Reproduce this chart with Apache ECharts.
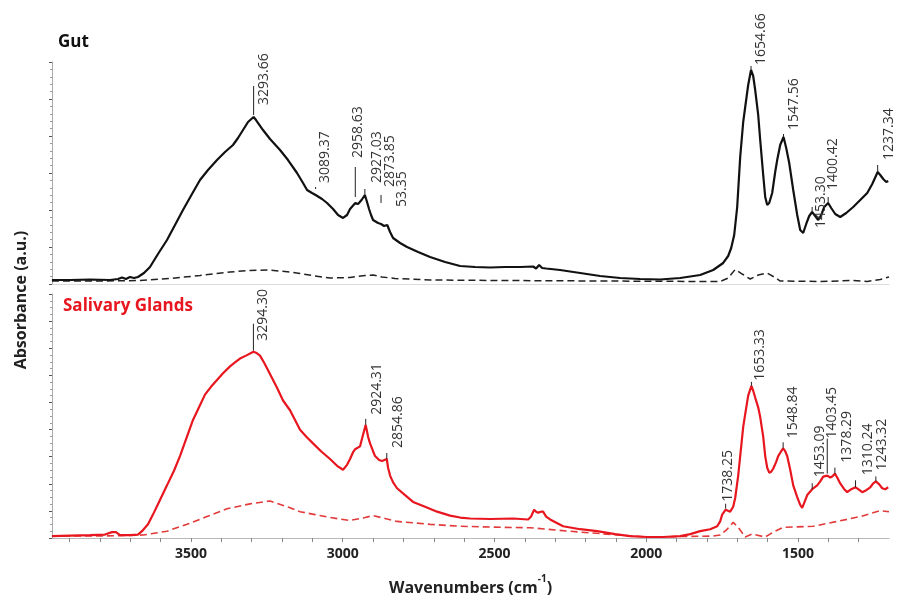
<!DOCTYPE html>
<html>
<head>
<meta charset="utf-8">
<script src="https://cdn.jsdelivr.net/npm/echarts@6/dist/echarts.min.js"></script>
<style>
  html, body { margin: 0; padding: 0; background: #fff; }
  #chart { width: 899px; height: 597px; }
</style>
</head>
<body>
<div id="chart"></div>
<script>
// FTIR spectra: [wavenumber (cm-1), absorbance (a.u.)]
const gutSample = [
  [3958.2,0.108],[3898.8,0.108],[3832.9,0.122],[3767,0.108],[3740.6,0.135],[3727.4,0.176],[3714.3,0.135],
  [3701.1,0.189],[3687.9,0.162],[3674.7,0.189],[3654.9,0.297],[3635.1,0.459],[3608.8,0.811],[3579.1,1.189],
  [3552.7,1.595],[3526.4,2.0],[3496.7,2.432],[3470.3,2.811],[3444,3.081],[3414.3,3.351],[3387.9,3.568],
  [3361.6,3.757],[3345.1,3.946],[3328.6,4.162],[3312.1,4.378],[3293.66,4.514],[3285.7,4.432],[3262.7,4.162],
  [3239.6,3.919],[3206.6,3.622],[3180.3,3.351],[3150.6,3.0],[3130.8,2.730],[3117.6,2.541],[3101.2,2.459],
  [3089.37,2.405],[3068.2,2.297],[3051.7,2.189],[3031.9,2.027],[3015.4,1.865],[2999,1.784],[2985.8,1.865],
  [2975.9,2.027],[2958.63,2.189],[2949.5,2.162],[2938,2.27],[2927.03,2.405],[2919.9,2.216],[2913.3,2.027],
  [2906.7,1.865],[2900.1,1.730],[2883.6,1.649],[2873.85,1.622],[2863.8,1.568],[2853.35,1.595],[2844,1.405],
  [2834.1,1.243],[2811.1,1.108],[2788,1.0],[2751.7,0.865],[2712.2,0.730],[2662.7,0.595],[2613.3,0.486],
  [2563.9,0.459],[2514.4,0.446],[2465,0.459],[2415.5,0.459],[2372.7,0.473],[2362.8,0.419],[2352.9,0.514],
  [2343,0.432],[2329.8,0.419],[2283.7,0.378],[2217.7,0.297],[2151.8,0.216],[2085.9,0.162],[2020,0.135],
  [1954.1,0.122],[1888.1,0.162],[1822.2,0.243],[1779.3,0.378],[1746.4,0.568],[1729.9,0.757],[1720,0.973],
  [1710.1,1.324],[1700.2,2.081],[1690.3,3.432],[1680.4,4.378],[1673.8,4.784],[1664,5.378],[1654.66,5.784],
  [1647.5,5.622],[1640.9,5.243],[1631,4.568],[1624.4,3.892],[1614.5,2.946],[1607.9,2.351],[1601.3,2.135],
  [1594.7,2.189],[1584.9,2.459],[1575,3.027],[1568.4,3.351],[1558.5,3.757],[1547.56,3.973],[1538.7,3.676],
  [1528.8,3.270],[1515.6,2.541],[1502.4,1.865],[1492.6,1.459],[1482.7,1.378],[1472.8,1.622],[1462.9,1.838],
  [1453.30,1.946],[1443.1,1.838],[1433.2,1.730],[1423.3,1.865],[1413.4,2.081],[1400.42,2.189],[1390.4,2.054],
  [1377.2,1.892],[1360.7,1.811],[1340.9,1.919],[1317.9,2.081],[1294.8,2.270],[1271.7,2.459],[1255.2,2.703],
  [1237.34,3.027],[1228.8,2.946],[1219,2.838],[1209,2.757],[1202.5,2.784]
];
const gutBackground = [
  [3958.2,0.081],[3800,0.081],[3668.1,0.095],[3569.2,0.149],[3470.3,0.230],[3371.4,0.324],[3305.5,0.365],
  [3246.2,0.378],[3190.1,0.338],[3140.7,0.284],[3091.3,0.216],[3041.8,0.162],[2975.9,0.176],[2926.4,0.230],
  [2900.1,0.243],[2870.4,0.189],[2827.6,0.149],[2712.2,0.108],[2481.4,0.095],[2151.8,0.081],[1822.2,0.068],
  [1756.3,0.068],[1729.9,0.162],[1706.8,0.392],[1683.7,0.270],[1657.4,0.135],[1631,0.243],[1601.3,0.297],
  [1578.3,0.189],[1558.5,0.081],[1426.6,0.068],[1317.9,0.095],[1271.7,0.068],[1228.8,0.122],[1200,0.189]
];
const glandSample = [
  [3958.2,0.072],[3898.8,0.090],[3832.9,0.108],[3783.5,0.126],[3760.4,0.216],[3747.2,0.216],[3734,0.108],
  [3701.1,0.108],[3674.7,0.126],[3661.5,0.252],[3641.7,0.504],[3625.3,0.863],[3602.2,1.403],[3579.1,1.942],
  [3556,2.482],[3536.3,3.022],[3513.2,3.741],[3493.4,4.353],[3473.6,4.820],[3453.9,5.288],[3434.1,5.576],
  [3414.3,5.827],[3394.5,6.079],[3371.4,6.331],[3355,6.475],[3338.5,6.619],[3318.7,6.727],[3294.30,6.871],
  [3285.7,6.835],[3272.6,6.727],[3259.4,6.475],[3249.5,6.259],[3233,5.899],[3216.5,5.540],[3196.7,5.072],
  [3173.7,4.712],[3140.7,3.993],[3117.6,3.705],[3097.9,3.489],[3071.5,3.201],[3041.8,2.914],[3018.7,2.662],
  [2999,2.518],[2985.8,2.698],[2975.9,2.914],[2966,3.165],[2959.4,3.273],[2942.9,3.381],[2936.3,3.669],
  [2924.31,4.173],[2916.6,3.741],[2910,3.489],[2900.1,3.201],[2893.5,3.022],[2880.3,2.878],[2870.4,2.842],
  [2854.86,2.914],[2850.6,2.590],[2844,2.302],[2834.1,2.050],[2821,1.835],[2794.6,1.583],[2768.2,1.331],
  [2728.7,1.151],[2689.1,0.971],[2646.3,0.827],[2613.3,0.755],[2580.3,0.719],[2514.4,0.701],[2438.6,0.719],
  [2389.1,0.683],[2379.3,0.791],[2369.4,1.043],[2362.8,0.971],[2356.2,0.935],[2346.3,0.971],[2339.7,0.971],
  [2329.8,0.791],[2316.6,0.683],[2273.8,0.432],[2217.7,0.324],[2161.7,0.252],[2102.4,0.144],[2052.9,0.072],
  [1996.9,0.036],[1944.1,0.036],[1888.1,0.072],[1855.1,0.144],[1822.2,0.252],[1789.2,0.324],[1766.1,0.432],
  [1756.3,0.612],[1749.7,0.863],[1738.25,1.043],[1733.2,1.007],[1723.3,0.971],[1713.4,1.151],[1706.8,1.475],
  [1696.9,2.302],[1690.3,3.022],[1680.4,4.101],[1673.8,4.568],[1664,5.252],[1653.33,5.612],[1647.5,5.432],
  [1640.9,5.180],[1631,4.820],[1624.4,4.460],[1614.5,3.741],[1607.9,3.022],[1601.3,2.590],[1594.7,2.410],
  [1588.1,2.446],[1581.6,2.554],[1571.7,2.806],[1565.1,3.022],[1555.2,3.201],[1548.84,3.309],[1542,3.201],
  [1535.4,3.022],[1525.5,2.518],[1515.6,1.942],[1502.4,1.511],[1492.6,1.223],[1486,1.115],[1479.4,1.295],
  [1469.5,1.583],[1453.09,1.799],[1449.7,1.871],[1436.5,1.942],[1426.6,2.086],[1416.7,2.266],[1403.45,2.302],
  [1393.7,2.230],[1387.1,2.266],[1378.29,2.374],[1370.6,2.230],[1360.7,2.014],[1347.5,1.799],[1337.6,1.691],
  [1324.4,1.799],[1310.24,1.871],[1301.4,1.799],[1288.2,1.691],[1275,1.763],[1261.8,1.871],[1251.9,2.014],
  [1243.32,2.086],[1232.1,1.978],[1222.3,1.835],[1212.4,1.799],[1202.5,1.871]
];
const glandBackground = [
  [3958.2,0.072],[3800,0.072],[3658.2,0.108],[3579.1,0.252],[3513.2,0.504],[3447.3,0.791],[3381.3,1.079],
  [3305.5,1.259],[3239.6,1.367],[3173.7,1.115],[3140.7,0.971],[3091.3,0.863],[3041.8,0.755],[2975.9,0.647],
  [2926.4,0.755],[2900.1,0.827],[2860.5,0.719],[2821,0.612],[2712.2,0.504],[2613.3,0.432],[2481.4,0.396],
  [2382.6,0.378],[2217.7,0.216],[1996.9,0.036],[1779.3,0.072],[1756.3,0.108],[1736.5,0.288],[1713.4,0.576],
  [1696.9,0.396],[1673.8,0.036],[1650.8,0.144],[1607.9,0.036],[1581.6,0.216],[1548.6,0.396],[1449.7,0.432],
  [1370.6,0.612],[1294.8,0.791],[1228.8,1.007],[1200,0.971]
];

// Assigned band positions
const gutPeaks = [3293.66, 3089.37, 2958.63, 2927.03, 2873.85, 2853.35, 1654.66, 1547.56, 1453.30, 1400.42, 1237.34];
const gutPeakText = ['3293.66', '3089.37', '2958.63', '2927.03', '2873.85', '53.35', '1654.66', '1547.56', '1453.30', '1400.42', '1237.34'];
const glandPeaks = [3294.30, 2924.31, 2854.86, 1738.25, 1653.33, 1548.84, 1453.09, 1403.45, 1378.29, 1310.24, 1243.32];
const glandPeakText = ['3294.30', '2924.31', '2854.86', '1738.25', '1653.33', '1548.84', '1453.09', '1403.45', '1378.29', '1310.24', '1243.32'];

// Axis ticks
const majorTicks = [3500, 3000, 2500, 2000, 1500];
const minorTicks = [3900, 3800, 3700, 3600, 3500, 3400, 3300, 3200, 3100, 3000, 2900, 2800, 2700, 2600, 2500,
  2400, 2300, 2200, 2100, 2000, 1900, 1800, 1700, 1600, 1500, 1400, 1300];

// Label placement: [dx, text gap above peak, leader start, leader end]
const gutLabelLayout = [
  [10, 12, 2, 31], [9, 12, 6, 8], [3, 45, 6, 36], [12, 12, 0, 6], [9, 37, 21, 29], [15, 18, 0, 0],
  [10, 5, 0, 4], [10, 7, 0, 3], [9, -16, 0, 5], [5, 13, 0, 6], [11, 12, 0, 7]
];
const glandLabelLayout = [
  [10, 11, 1, 28], [11, 10, 0, 6], [11, 11, 0, 6], [2, 8, 1, 6], [9, 5, 0, 4], [10, 10, 0, 6],
  [8, 12, 0, 6], [5, 37, 2, 37], [12, 11, 0, 6], [12, 12, 0, 7], [6, 11, 0, 5]
];

const FONT = '"Open Sans", "Liberation Sans", Arial, sans-serif';

function peakPoints(spectrum, peaks) {
  return peaks.map(w => {
    const hit = spectrum.find(p => p[0] === w);
    return [w, hit ? hit[1] : 0];
  });
}

function labelRenderer(texts, layout) {
  return function (params, api) {
    const p = api.coord([api.value(0), api.value(1)]);
    const L = layout[params.dataIndex];
    const children = [];
    if (L[3] > L[2]) {
      children.push({
        type: 'line',
        shape: { x1: p[0], y1: p[1] - L[2], x2: p[0], y2: p[1] - L[3] },
        style: { stroke: '#222', lineWidth: 1 }
      });
    }
    children.push({
      type: 'text',
      x: p[0] + L[0],
      y: p[1] - L[1],
      rotation: Math.PI / 2,
      style: {
        text: texts[params.dataIndex],
        fill: '#333',
        font: '14px ' + FONT,
        align: 'left',
        verticalAlign: 'middle'
      }
    });
    return { type: 'group', children };
  };
}

const xRange = { min: 1200, max: 3958 };
const BLACK = '#111';
const RED = '#e8161e';

const chart = echarts.init(document.getElementById('chart'), null, { renderer: 'canvas' });

chart.setOption({
  animation: false,
  backgroundColor: '#fff',
  grid: [
    { left: 52, right: 10, top: 62, height: 222 },
    { left: 52, right: 10, top: 294, height: 250 }
  ],
  xAxis: [
    {
      gridIndex: 0, type: 'value', inverse: true, min: xRange.min, max: xRange.max,
      axisLine: { show: true, lineStyle: { color: '#dcdcdc', width: 1 } },
      axisTick: { show: false }, axisLabel: { show: false }, splitLine: { show: false }
    },
    {
      gridIndex: 1, type: 'value', inverse: true, min: xRange.min, max: xRange.max,
      axisLine: { show: true, lineStyle: { color: '#b8b8b8', width: 1 } },
      axisTick: { show: true, length: 4, customValues: minorTicks, lineStyle: { color: '#888' } },
      axisLabel: {
        show: true, customValues: majorTicks, margin: 9,
        formatter: v => String(v),
        color: '#222', fontFamily: FONT, fontWeight: 'bold', fontSize: 14
      },
      splitLine: { show: false },
      name: '{a|Wavenumbers (cm}{s|-1}{a|)}',
      nameLocation: 'middle',
      nameGap: 36,
      nameTextStyle: {
        rich: {
          a: { fontFamily: FONT, fontWeight: 'bold', fontSize: 16, color: '#222', lineHeight: 22, verticalAlign: 'bottom' },
          s: { fontFamily: FONT, fontWeight: 'bold', fontSize: 10, color: '#222', lineHeight: 22, verticalAlign: 'top' }
        }
      }
    }
  ],
  yAxis: [
    {
      gridIndex: 0, type: 'value', min: 0, max: 6, interval: 1,
      axisLine: { show: true, lineStyle: { color: '#aaa' } },
      axisTick: { show: true, length: 3, lineStyle: { color: '#555' } },
      minorTick: { show: true, splitNumber: 5, length: 2, lineStyle: { color: '#999' } },
      axisLabel: { show: false }, splitLine: { show: false }
    },
    {
      gridIndex: 1, type: 'value', min: 0, max: 9, interval: 1,
      axisLine: { show: true, lineStyle: { color: '#aaa' } },
      axisTick: { show: true, length: 3, lineStyle: { color: '#555' } },
      minorTick: { show: true, splitNumber: 4, length: 2, lineStyle: { color: '#999' } },
      axisLabel: { show: false }, splitLine: { show: false }
    }
  ],
  series: [
    {
      name: 'Gut background', type: 'line', xAxisIndex: 0, yAxisIndex: 0, data: gutBackground,
      showSymbol: false, lineStyle: { color: '#222', width: 1.5, type: [7, 4] }, z: 2
    },
    {
      name: 'Gut', type: 'line', xAxisIndex: 0, yAxisIndex: 0, data: gutSample,
      showSymbol: false, lineStyle: { color: BLACK, width: 2.2 }, z: 3
    },
    {
      name: 'Salivary glands background', type: 'line', xAxisIndex: 1, yAxisIndex: 1, data: glandBackground,
      showSymbol: false, lineStyle: { color: '#e23a3a', width: 1.6, type: [7, 4] }, z: 2
    },
    {
      name: 'Salivary Glands', type: 'line', xAxisIndex: 1, yAxisIndex: 1, data: glandSample,
      showSymbol: false, lineStyle: { color: RED, width: 2.2 }, z: 3
    },
    {
      type: 'custom', xAxisIndex: 0, yAxisIndex: 0, clip: false, silent: true, z: 5,
      data: peakPoints(gutSample, gutPeaks),
      renderItem: labelRenderer(gutPeakText, gutLabelLayout)
    },
    {
      type: 'custom', xAxisIndex: 1, yAxisIndex: 1, clip: false, silent: true, z: 5,
      data: peakPoints(glandSample, glandPeaks),
      renderItem: labelRenderer(glandPeakText, glandLabelLayout)
    }
  ],
  graphic: [
    {
      type: 'text', x: 58, y: 42,
      style: { text: 'Gut', fill: '#111', font: 'bold 17px ' + FONT, align: 'left', verticalAlign: 'middle' }
    },
    {
      type: 'text', x: 63, y: 306,
      style: { text: 'Salivary Glands', fill: RED, font: 'bold 17px ' + FONT, align: 'left', verticalAlign: 'middle' }
    },
    {
      type: 'text', x: 21, y: 300, rotation: Math.PI / 2,
      style: { text: 'Absorbance (a.u.)', fill: '#222', font: 'bold 16px ' + FONT, align: 'center', verticalAlign: 'middle' }
    }
  ]
});
</script>
</body>
</html>
